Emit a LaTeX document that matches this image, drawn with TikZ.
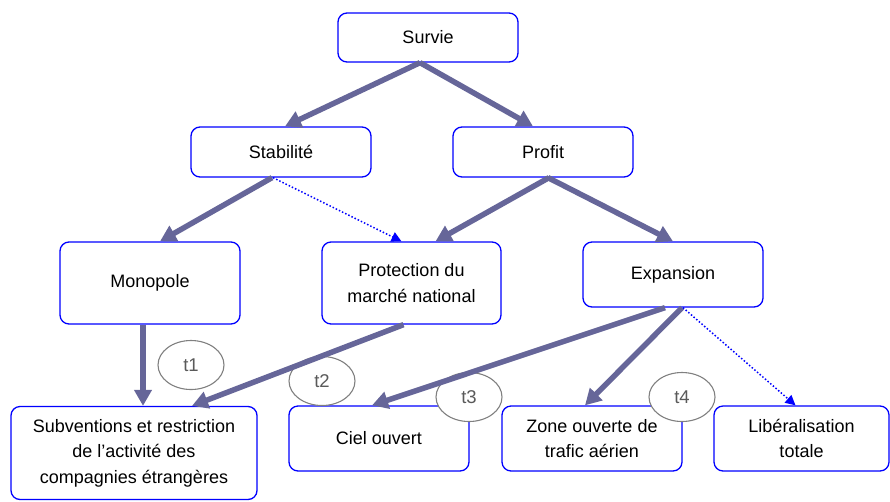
\documentclass[tikz,border=0pt]{standalone}
\usepackage{fontspec}
\setmainfont{Liberation Sans}
\usetikzlibrary{arrows.meta,shapes.geometric}
\definecolor{arrcol}{RGB}{102,102,153}
\definecolor{boxblue}{RGB}{0,0,255}
\definecolor{ellgray}{RGB}{128,128,128}
\definecolor{elltext}{RGB}{90,90,90}
\begin{document}
\begin{tikzpicture}[x=1pt,y=-1pt,
  box/.style={draw=boxblue,line width=1.3pt,rounded corners=9pt,fill=white,align=center,
    inner sep=0pt,font=\fontsize{18}{25.5}\selectfont},
  tag/.style={ellipse,draw=ellgray,line width=1.1pt,fill=white,minimum width=66pt,minimum height=49pt,
    inner sep=0pt,text=elltext,font=\fontsize{18.5}{21}\selectfont},
  thick arr/.style={draw=arrcol,line width=5.5pt,-{Triangle[length=16pt,width=17pt]}},
  dot arr/.style={draw=boxblue,line width=1.5pt,dotted,-{Triangle[length=10pt,width=10pt]}}
]
\useasboundingbox (0,0) rectangle (890,501);
% boxes
\node[box,minimum width=180pt,minimum height=49pt] (survie) at (428,37.5) {Survie};
\node[box,minimum width=180pt,minimum height=50pt] (stab) at (281,152) {Stabilité};
\node[box,minimum width=180pt,minimum height=50pt] (profit) at (543,152) {Profit};
\node[box,minimum width=180pt,minimum height=82pt] (mono) at (150,283) {Monopole};
\node[box,minimum width=179pt,minimum height=82pt] (prot) at (411.5,283) {Protection du\\marché national};
\node[box,minimum width=180pt,minimum height=65pt] (exp) at (673,274.5) {Expansion};
\node[box,minimum width=246pt,minimum height=93pt] (subv) at (134,453) {Subventions et restriction\\de l’activité des\\compagnies étrangères};
\node[box,minimum width=180pt,minimum height=65pt] (ciel) at (379,438.5) {Ciel ouvert};
\node[box,minimum width=180pt,minimum height=65pt] (zone) at (592,438.5) {Zone ouverte de\\trafic aérien};
\node[box,minimum width=175pt,minimum height=65pt] (lib) at (801.5,438.5) {Libéralisation\\totale};
% tags
\node[tag] (t1) at (191,365) {t1};
\node[tag] (t2) at (322,381) {t2};
\node[tag] (t3) at (469,397) {t3};
\node[tag] (t4) at (682,397) {t4};
% arrows
\draw[thick arr] ([xshift=-8pt]survie.south) -- ([xshift=4pt]stab.north);
\draw[thick arr] ([xshift=-8pt]survie.south) -- ([xshift=-10pt]profit.north);
\draw[thick arr] ([xshift=-9pt]stab.south) -- ([xshift=10pt]mono.north);
\draw[dot arr] ([xshift=-8pt]stab.south) -- ([xshift=-10pt]prot.north);
\draw[thick arr] ([xshift=6pt]profit.south) -- ([xshift=24pt]prot.north);
\draw[thick arr] ([xshift=5pt]profit.south) -- ([xshift=0pt]exp.north);
\draw[thick arr] ([xshift=-7pt]mono.south) -- ([xshift=9pt]subv.north);
\draw[thick arr] ([xshift=-8pt]prot.south) -- ([xshift=58pt]subv.north);
\draw[thick arr] ([xshift=-8pt]exp.south) -- ([xshift=-7pt]ciel.north);
\draw[thick arr] ([xshift=9pt]exp.south) -- ([xshift=-7pt]zone.north);
\draw[dot arr] ([xshift=10pt]exp.south) -- ([xshift=-6pt]lib.north);
\end{tikzpicture}
\end{document}
